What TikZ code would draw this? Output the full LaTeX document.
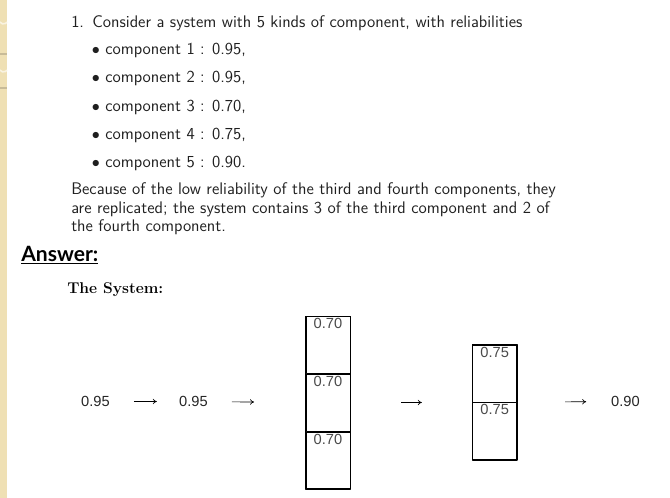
\documentclass[tikz,border=0pt]{standalone}
\usepackage{fontspec}
\newfontfamily\numfont{Liberation Sans}
\newfontfamily\ansfont{Lato}
\usetikzlibrary{positioning,fit,arrows.meta}
\definecolor{slidebeige}{HTML}{EFE0B4}
\definecolor{beigeline}{HTML}{C8BB98}
\definecolor{cellgray}{HTML}{4A4A4A}
\tikzset{
	txt/.style={anchor=base west, inner sep=0pt, text=black!88},
	num/.style={inner sep=0pt, font=\numfont\fontsize{11}{13}\selectfont, text=black!85},
	cellnum/.style={anchor=north, inner sep=1.5pt, font=\numfont\fontsize{11}{13}\selectfont, text=cellgray},
	cell/.style={draw, line width=0.6pt, minimum width=33pt, minimum height=42.6pt, inner sep=0pt, label={[cellnum]north:#1}},
	column/.style={draw, line width=1.1pt, inner sep=0pt},
	conn/.style={->, line width=0.5pt}
}
\begin{document}
\begin{tikzpicture}[x=0.75pt, y=-0.75pt, font=\sffamily\fontsize{12.6}{15}\selectfont, line join=round, >={To[length=3pt,width=4pt]}]
	\useasboundingbox (0,0) rectangle (670,498);
	% slide border
	\fill[slidebeige] (0,0) rectangle (7,498);
	\draw[white!60!slidebeige, line width=1.2pt] (0,22) arc[start angle=150, end angle=30, radius=4] (0,70) arc[start angle=150, end angle=30, radius=4];
	\draw[beigeline, line width=1pt] (0,54)--(7,54) (0,88)--(7,88);
	% question
	\node[txt] (q1) at (71,28) {1.\hspace{0.5em}Consider a system with 5 kinds of component, with reliabilities};
	\node[txt] (dot1) at (91.7,55) {$\bullet$};
	\node[txt] (item1) at (105,55) {component 1 : 0.95,};
	\node[txt] (dot2) at (91.7,83) {$\bullet$};
	\node[txt] (item2) at (105,83) {component 2 : 0.95,};
	\node[txt] (dot3) at (91.7,112) {$\bullet$};
	\node[txt] (item3) at (105,112) {component 3 : 0.70,};
	\node[txt] (dot4) at (91.7,140) {$\bullet$};
	\node[txt] (item4) at (105,140) {component 4 : 0.75,};
	\node[txt] (dot5) at (91.7,168) {$\bullet$};
	\node[txt] (item5) at (105,168) {component 5 : 0.90.};
	\node[txt] (p1) at (71,195) {Because of the low reliability of the third and fourth components, they};
	\node[txt] (p2) at (71,213.5) {are replicated; the system contains 3 of the third component and 2 of};
	\node[txt] (p3) at (71,232) {the fourth component.};
	% answer
	\node[anchor=base west, inner sep=0pt] (ans) at (21,261.7) {\ansfont\bfseries\fontsize{15.8}{17}\selectfont\underline{Answer:}};
	\node[anchor=base west, inner sep=0pt] (sys) at (67,294) {\rmfamily\bfseries\fontsize{11.7}{14}\selectfont The System:};
	% the system
	\node[num] (r1) at (95.4,401.5) {0.95};
	\node[num] (r2) at (193.4,401.5) {0.95};
	\node[cell=0.70] (c31) at (327.9,345.1) {};
	\node[cell=0.70, below=0pt of c31] (c32) {};
	\node[cell=0.70, below=0pt of c32] (c33) {};
	\node[column, fit=(c31)(c33)] (b3) {};
	\node[cell=0.75] (c41) at (494.7,373.5) {};
	\node[cell=0.75, below=0pt of c41] (c42) {};
	\node[column, fit=(c41)(c42)] (b4) {};
	\node[num] (r5) at (625.4,401.5) {0.90};
	\draw[conn, shorten <=18pt, shorten >=16.5pt] (r1) -- (r2);
	\draw[conn, shorten <=18pt, shorten >=38pt] (r2) -- (b3);
	\draw[conn, shorten <=37.5pt, shorten >=37.3pt] (b3) -- (b4);
	\draw[conn, shorten <=35.5pt, shorten >=18.5pt] (b4) -- (r5);
\end{tikzpicture}
\end{document}
